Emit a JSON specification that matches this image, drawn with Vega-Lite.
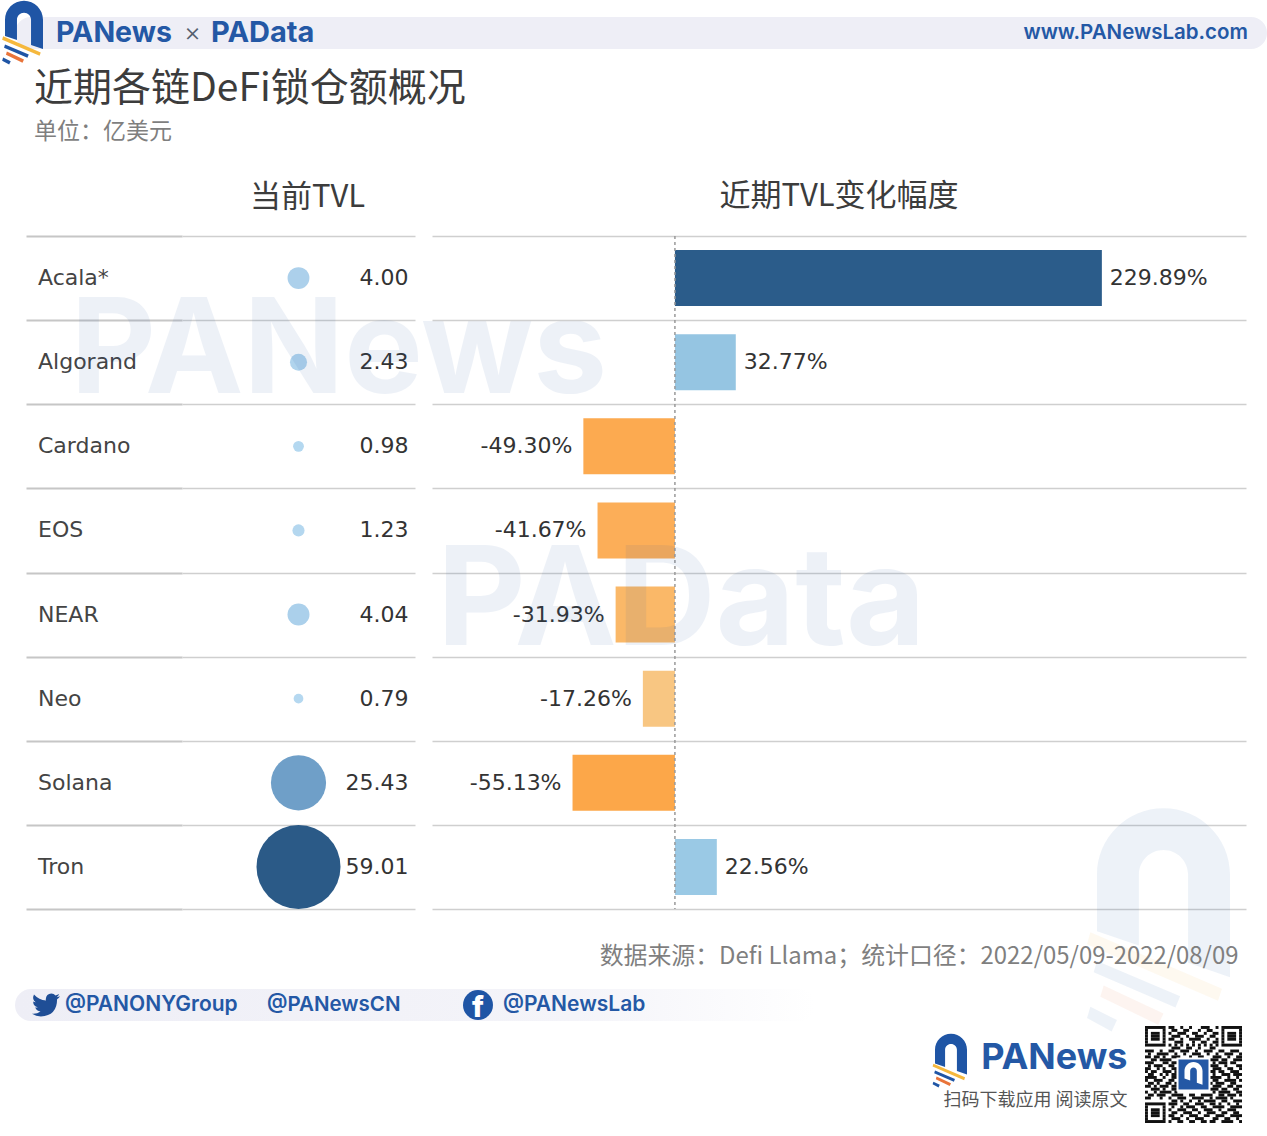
{
  "$schema": "https://vega.github.io/schema/vega-lite/v6.json",
  "padding": 0,
  "background": "#ffffff",
  "config": {
    "view": {"stroke": null},
    "text": {"font": "DejaVu Sans"},
    "title": {"font": "Noto Sans CJK SC"}
  },
  "datasets": {
    "chains": [
      {"chain": "Acala*", "tvl": 4.00, "change": 229.89, "changeLabel": "229.89%"},
      {"chain": "Algorand", "tvl": 2.43, "change": 32.77, "changeLabel": "32.77%"},
      {"chain": "Cardano", "tvl": 0.98, "change": -49.30, "changeLabel": "-49.30%"},
      {"chain": "EOS", "tvl": 1.23, "change": -41.67, "changeLabel": "-41.67%"},
      {"chain": "NEAR", "tvl": 4.04, "change": -31.93, "changeLabel": "-31.93%"},
      {"chain": "Neo", "tvl": 0.79, "change": -17.26, "changeLabel": "-17.26%"},
      {"chain": "Solana", "tvl": 25.43, "change": -55.13, "changeLabel": "-55.13%"},
      {"chain": "Tron", "tvl": 59.01, "change": 22.56, "changeLabel": "22.56%"}
    ],
    "logo": [
      {"part": "arch"}, {"part": "yellow"}, {"part": "navy"}, {"part": "orange"}, {"part": "tip"}
    ],
    "nothing": []
  },
  "spacing": 0,
  "bounds": "flush",
  "resolve": {"scale": {"color": "independent", "size": "independent", "shape": "independent"}},
  "vconcat": [
    {"width": 1, "height": 16, "data": {"name": "nothing"}, "mark": "point"},
    {
      "spacing": 0,
      "bounds": "flush",
      "hconcat": [
        {"width": 15, "height": 32, "data": {"name": "nothing"}, "mark": "point"},
        {
          "width": 1252,
          "height": 32,
          "view": {"fill": "#eeeef6", "cornerRadius": 16, "stroke": null},
          "layer": [
            {
              "data": {"name": "logo"},
              "mark": {"type": "point", "filled": true, "size": 1444, "opacity": 1, "strokeWidth": 0},
              "encoding": {
                "x": {"datum": "PANews", "type": "nominal", "axis": null, "scale": {"type": "point", "padding": 0, "domain": ["PANews", "www.PANewsLab.com"], "range": [9, 1233]}},
                "shape": {"field": "part", "type": "nominal", "legend": null, "scale": {"domain": ["arch", "yellow", "navy", "orange", "tip"], "range": ["M-1,.155 L-1,-.696 A1,1 0 0 1 1,-.696 L1,.844 L.37,.627 L.37,-.696 A.37,.37 0 0 0 -.37,-.696 L-.37,.37 Z", "M-1.1,.17 L.88,1.02 L.82,1.2 L-1.15,.35 Z", "M-1,.6 L.25,1.13 L.18,1.3 L-1.05,.77 Z", "M-.9,.97 L0,1.39 L-.08,1.56 L-.95,1.14 Z", "M-1.1,1.29 L-.7,1.49 L-.78,1.66 L-1.15,1.46 Z"]}},
                "color": {"field": "part", "type": "nominal", "legend": null, "scale": {"domain": ["arch", "yellow", "navy", "orange", "tip"], "range": ["#1f55a5", "#f5b83d", "#1f55a5", "#e9743a", "#1f55a5"]}}
              }
            },
            {
              "data": {"values": [{"label": "PANews"}]},
              "mark": {"type": "text", "align": "left", "dx": 32, "font": "Inter", "fontWeight": 700, "fontSize": 28.5, "color": "#2458a5"},
              "encoding": {"x": {"datum": "PANews", "type": "nominal", "axis": null}, "text": {"field": "label"}}
            },
            {
              "data": {"values": [{"label": "×"}]},
              "mark": {"type": "text", "align": "left", "dx": 160, "font": "Inter", "fontWeight": 300, "fontSize": 26, "color": "#55606f"},
              "encoding": {"x": {"datum": "PANews", "type": "nominal", "axis": null}, "text": {"field": "label"}}
            },
            {
              "data": {"values": [{"label": "PAData"}]},
              "mark": {"type": "text", "align": "left", "dx": 187, "font": "Inter", "fontWeight": 700, "fontSize": 29, "color": "#2458a5"},
              "encoding": {"x": {"datum": "PANews", "type": "nominal", "axis": null}, "text": {"field": "label"}}
            },
            {
              "data": {"values": [{"label": "www.PANewsLab.com"}]},
              "mark": {"type": "text", "align": "right", "font": "Inter", "fontWeight": 600, "fontSize": 20.5, "color": "#2458a5"},
              "encoding": {"x": {"datum": "www.PANewsLab.com", "type": "nominal", "axis": null}, "text": {"field": "label"}}
            }
          ]
        }
      ]
    },
    {"width": 1, "height": 32, "data": {"name": "nothing"}, "mark": "point"},
    {
      "width": 1267,
      "height": 187,
      "title": {
        "text": "近期各链DeFi锁仓额概况",
        "subtitle": "单位：亿美元",
        "anchor": "start",
        "frame": "group",
        "dx": 34,
        "offset": -95,
        "fontSize": 39,
        "fontWeight": 400,
        "color": "#3c3c3c",
        "subtitleFont": "Noto Sans CJK SC",
        "subtitleFontSize": 23,
        "subtitleColor": "#7f7f7f",
        "subtitlePadding": 12
      },
      "data": {"name": "nothing"},
      "mark": "point"
    },
    {
      "spacing": 0,
      "bounds": "flush",
      "resolve": {"scale": {"color": "independent", "size": "independent"}},
      "hconcat": [
        {"width": 26, "height": 673, "data": {"name": "nothing"}, "mark": "point"},
        {
          "width": 156,
          "height": 673,
          "data": {"name": "chains"},
          "mark": {"type": "text", "align": "left", "dx": -66, "fontSize": 22, "color": "#444444"},
          "encoding": {
            "y": {"field": "chain", "type": "nominal", "sort": null, "scale": {"paddingInner": 0, "paddingOuter": 0}, "axis": {"title": null, "labels": false, "ticks": false, "domain": false, "grid": true, "gridColor": "#c6c6c6", "gridWidth": 2, "tickBand": "extent"}},
            "text": {"field": "chain"}
          }
        },
        {
          "width": 233,
          "height": 673,
          "title": {"text": "当前TVL", "fontSize": 31, "fontWeight": 400, "color": "#3c3c3c", "dx": 9, "offset": 22},
          "data": {"name": "chains"},
          "encoding": {
            "y": {"field": "chain", "type": "nominal", "sort": null, "scale": {"paddingInner": 0, "paddingOuter": 0}, "axis": {"title": null, "labels": false, "ticks": false, "domain": false, "grid": true, "gridColor": "#cfcfcf", "gridWidth": 1.5, "tickBand": "extent"}}
          },
          "layer": [
            {
              "mark": {"type": "circle", "opacity": 1},
              "encoding": {
                "size": {"field": "tvl", "type": "quantitative", "legend": null, "scale": {"domain": [0, 59.01], "range": [0, 7056]}},
                "color": {"field": "tvl", "type": "quantitative", "legend": null, "scale": {"domain": [0.79, 25.43, 59.01], "range": ["#b5d8f0", "#6f9fc8", "#2b5a87"]}}
              }
            },
            {
              "mark": {"type": "text", "align": "right", "dx": 110, "fontSize": 22, "color": "#333333"},
              "encoding": {"text": {"field": "tvl", "type": "quantitative", "format": ".2f"}}
            },
            {
              "data": {"values": [{"label": "PANews"}]},
              "mark": {"type": "text", "align": "left", "dx": -228, "dy": -9, "font": "Inter", "fontWeight": 700, "fontSize": 132, "color": "#2458a5", "opacity": 0.08},
              "encoding": {"y": {"datum": "Algorand", "type": "nominal"}, "text": {"field": "label"}}
            }
          ]
        },
        {"width": 17, "height": 673, "data": {"name": "nothing"}, "mark": "point"},
        {
          "width": 814,
          "height": 673,
          "title": {"text": "近期TVL变化幅度", "fontSize": 31, "fontWeight": 400, "color": "#3c3c3c", "offset": 22},
          "data": {"name": "chains"},
          "encoding": {
            "y": {"field": "chain", "type": "nominal", "sort": null, "scale": {"paddingInner": 0, "paddingOuter": 0}, "axis": {"title": null, "labels": false, "ticks": false, "domain": false, "grid": true, "gridColor": "#cfcfcf", "gridWidth": 1.5, "tickBand": "extent"}},
            "x": {"field": "change", "type": "quantitative", "axis": null, "scale": {"domain": [-130.8, 307.5], "nice": false}}
          },
          "layer": [
            {
              "mark": {"type": "bar", "size": 56},
              "encoding": {
                "color": {"field": "change", "type": "quantitative", "legend": null, "scale": {"domain": [-55.13, -41.67, -17.26, 0, 22.56, 32.77, 229.89], "range": ["#fca749", "#fcae58", "#f8c682", "#f5e6c8", "#9ac9e5", "#95c5e2", "#2b5c8a"]}}
              }
            },
            {
              "transform": [{"filter": "datum.change > 0"}],
              "mark": {"type": "text", "align": "left", "dx": 8, "fontSize": 22, "color": "#333333"},
              "encoding": {"text": {"field": "changeLabel"}}
            },
            {
              "transform": [{"filter": "datum.change < 0"}],
              "mark": {"type": "text", "align": "right", "dx": -11, "fontSize": 22, "color": "#333333"},
              "encoding": {"text": {"field": "changeLabel"}}
            },
            {
              "data": {"values": [{"zero": 0}]},
              "mark": {"type": "rule", "color": "#9a9a9a", "strokeDash": [3, 3], "strokeWidth": 1.5},
              "encoding": {"x": {"field": "zero", "type": "quantitative"}, "y": null}
            },
            {
              "data": {"values": [{"label": "PAData"}]},
              "mark": {"type": "text", "align": "left", "dx": -402, "dy": -11, "font": "Inter", "fontWeight": 700, "fontSize": 137, "color": "#2458a5", "opacity": 0.08},
              "encoding": {"x": null, "y": {"datum": "NEAR", "type": "nominal"}, "text": {"field": "label"}}
            }
          ]
        }
      ]
    },
    {"width": 1, "height": 674, "data": {"name": "nothing"}, "mark": "point"},
    {
      "spacing": 0,
      "bounds": "flush",
      "hconcat": [
        {"width": 1060, "height": 22, "data": {"name": "nothing"}, "mark": "point"},
        {
          "width": 207,
          "height": 22,
          "data": {"name": "logo"},
          "mark": {"type": "point", "filled": true, "size": 17689, "opacity": 0.08, "strokeWidth": 0},
          "encoding": {
            "shape": {"field": "part", "type": "nominal", "legend": null, "scale": {"domain": ["arch", "yellow", "navy", "orange", "tip"], "range": ["M-1,.155 L-1,-.696 A1,1 0 0 1 1,-.696 L1,.844 L.37,.627 L.37,-.696 A.37,.37 0 0 0 -.37,-.696 L-.37,.37 Z", "M-1.1,.17 L.88,1.02 L.82,1.2 L-1.15,.35 Z", "M-1,.6 L.25,1.13 L.18,1.3 L-1.05,.77 Z", "M-.9,.97 L0,1.39 L-.08,1.56 L-.95,1.14 Z", "M-1.1,1.29 L-.7,1.49 L-.78,1.66 L-1.15,1.46 Z"]}},
            "color": {"field": "part", "type": "nominal", "legend": null, "scale": {"domain": ["arch", "yellow", "navy", "orange", "tip"], "range": ["#1f55a5", "#f5b83d", "#1f55a5", "#e9743a", "#1f55a5"]}}
          }
        }
      ]
    },
    {"width": 1, "height": 22, "data": {"name": "nothing"}, "mark": "point"},
    {
      "width": 1267,
      "height": 57,
      "data": {"values": [{"note": "数据来源：Defi Llama；统计口径：2022/05/09-2022/08/09"}]},
      "mark": {"type": "text", "align": "right", "dx": 605, "dy": -4, "font": "Noto Sans CJK SC", "fontSize": 23.9, "color": "#7f7f7f"},
      "encoding": {"text": {"field": "note"}}
    },
    {
      "spacing": 0,
      "bounds": "flush",
      "hconcat": [
        {"width": 15, "height": 32, "data": {"name": "nothing"}, "mark": "point"},
        {
          "width": 800,
          "height": 32,
          "view": {"cornerRadius": 16, "stroke": null, "fill": {"gradient": "linear", "x1": 0, "x2": 1, "y1": 0, "y2": 0, "stops": [{"offset": 0, "color": "#eeeef6"}, {"offset": 0.7, "color": "#f4f4f9"}, {"offset": 1, "color": "#ffffff"}]}},
          "resolve": {"scale": {"x": "independent"}},
          "layer": [
            {
              "data": {"values": [{"handle": "@PANONYGroup"}, {"handle": "@PANewsLab"}]},
              "mark": {"type": "text", "align": "left", "font": "Inter", "fontWeight": 600, "fontSize": 21, "color": "#2458a5"},
              "encoding": {
                "x": {"field": "handle", "type": "nominal", "axis": null, "scale": {"type": "point", "padding": 0, "domain": ["@PANONYGroup", "@PANewsLab"], "range": [50, 488]}},
                "text": {"field": "handle"}
              }
            },
            {
              "data": {"values": [{"handle": "@PANewsCN"}]},
              "mark": {"type": "text", "align": "left", "dx": -42, "font": "Inter", "fontWeight": 600, "fontSize": 20.5, "color": "#2458a5"},
              "encoding": {
                "x": {"field": "handle", "type": "nominal", "axis": null, "scale": {"type": "point", "padding": 0, "domain": ["a", "@PANewsCN", "b"], "range": [50, 538]}},
                "text": {"field": "handle"}
              }
            },
            {
              "data": {"values": [{"icon": "twitter"}]},
              "mark": {"type": "point", "filled": true, "size": 784, "opacity": 1, "strokeWidth": 0, "color": "#1f4e96", "shape": "M1,-.617 Q.892,-.567 .758,-.558 Q.892,-.633 .942,-.783 Q.825,-.717 .683,-.683 Q.558,-.817 .383,-.817 Q.017,-.792 -.017,-.408 Q-.017,-.358 0,-.317 Q-.5,-.342 -.858,-.742 Q-1.025,-.4 -.733,-.192 Q-.833,-.192 -.917,-.242 Q-.917,.083 -.592,.167 Q-.692,.192 -.775,.167 Q-.675,.433 -.392,.458 Q-.667,.667 -1,.625 Q-.708,.813 -.367,.813 Q.792,.767 .792,-.408 Q.917,-.483 1,-.617 Z"},
              "encoding": {
                "x": {"field": "icon", "type": "nominal", "axis": null, "scale": {"type": "point", "padding": 0, "domain": ["twitter", "facebook"], "range": [31, 463]}}
              }
            },
            {
              "data": {"values": [{"icon": "facebook"}]},
              "mark": {"type": "circle", "size": 900, "opacity": 1, "color": "#1f55a5"},
              "encoding": {
                "x": {"field": "icon", "type": "nominal", "axis": null, "scale": {"type": "point", "padding": 0, "domain": ["twitter", "facebook"], "range": [31, 463]}}
              }
            },
            {
              "data": {"values": [{"icon": "facebook", "glyph": "f"}]},
              "mark": {"type": "text", "dy": 3, "font": "Inter", "fontWeight": 800, "fontSize": 29, "color": "#ffffff"},
              "encoding": {
                "x": {"field": "icon", "type": "nominal", "axis": null, "scale": {"type": "point", "padding": 0, "domain": ["twitter", "facebook"], "range": [31, 463]}},
                "text": {"field": "glyph"}
              }
            }
          ]
        }
      ]
    },
    {"width": 1, "height": 32, "data": {"name": "nothing"}, "mark": "point"},
    {"width": 1, "height": 5, "data": {"name": "nothing"}, "mark": "point"},
    {
      "spacing": 0,
      "bounds": "flush",
      "hconcat": [
        {"width": 928, "height": 70, "data": {"name": "nothing"}, "mark": "point"},
        {
          "width": 46,
          "height": 70,
          "data": {"name": "logo"},
          "mark": {"type": "point", "filled": true, "size": 1024, "opacity": 1, "strokeWidth": 0},
          "encoding": {
            "shape": {"field": "part", "type": "nominal", "legend": null, "scale": {"domain": ["arch", "yellow", "navy", "orange", "tip"], "range": ["M-1,.155 L-1,-.696 A1,1 0 0 1 1,-.696 L1,.844 L.37,.627 L.37,-.696 A.37,.37 0 0 0 -.37,-.696 L-.37,.37 Z", "M-1.1,.17 L.88,1.02 L.82,1.2 L-1.15,.35 Z", "M-1,.6 L.25,1.13 L.18,1.3 L-1.05,.77 Z", "M-.9,.97 L0,1.39 L-.08,1.56 L-.95,1.14 Z", "M-1.1,1.29 L-.7,1.49 L-.78,1.66 L-1.15,1.46 Z"]}},
            "color": {"field": "part", "type": "nominal", "legend": null, "scale": {"domain": ["arch", "yellow", "navy", "orange", "tip"], "range": ["#1f55a5", "#f5b83d", "#1f55a5", "#e9743a", "#1f55a5"]}}
          }
        },
        {
          "width": 171,
          "height": 70,
          "layer": [
            {
              "data": {"values": [{"label": "PANews"}]},
              "mark": {"type": "text", "align": "right", "dx": 68, "font": "Inter", "fontWeight": 700, "fontSize": 36, "color": "#2458a5"},
              "encoding": {
                "y": {"field": "label", "type": "nominal", "axis": null, "scale": {"type": "point", "padding": 0, "domain": ["PANews", "扫码下载应用 阅读原文"], "range": [32, 75]}},
                "text": {"field": "label"}
              }
            },
            {
              "data": {"values": [{"label": "扫码下载应用 阅读原文"}]},
              "mark": {"type": "text", "align": "right", "dx": 68, "font": "Noto Sans CJK SC", "fontSize": 18, "color": "#555555"},
              "encoding": {
                "y": {"field": "label", "type": "nominal", "axis": null},
                "text": {"field": "label"}
              }
            }
          ]
        },
        {
          "width": 97,
          "height": 97,
          "layer": [
            {
              "data": {"values": [
                {"r":0,"a":0,"b":7},{"r":0,"a":8,"b":10},{"r":0,"a":12,"b":13},{"r":0,"a":15,"b":16},{"r":0,"a":19,"b":22},{"r":0,"a":24,"b":25},{"r":0,"a":26,"b":33},
                {"r":1,"a":0,"b":1},{"r":1,"a":6,"b":7},{"r":1,"a":9,"b":11},{"r":1,"a":13,"b":15},{"r":1,"a":18,"b":19},{"r":1,"a":21,"b":23},{"r":1,"a":26,"b":27},{"r":1,"a":32,"b":33},
                {"r":2,"a":0,"b":1},{"r":2,"a":2,"b":5},{"r":2,"a":6,"b":7},{"r":2,"a":8,"b":9},{"r":2,"a":11,"b":14},{"r":2,"a":16,"b":18},{"r":2,"a":20,"b":21},{"r":2,"a":23,"b":25},{"r":2,"a":26,"b":27},{"r":2,"a":28,"b":31},{"r":2,"a":32,"b":33},
                {"r":3,"a":0,"b":1},{"r":3,"a":2,"b":5},{"r":3,"a":6,"b":7},{"r":3,"a":9,"b":12},{"r":3,"a":14,"b":15},{"r":3,"a":17,"b":20},{"r":3,"a":22,"b":24},{"r":3,"a":26,"b":27},{"r":3,"a":28,"b":31},{"r":3,"a":32,"b":33},
                {"r":4,"a":0,"b":1},{"r":4,"a":2,"b":5},{"r":4,"a":6,"b":7},{"r":4,"a":8,"b":10},{"r":4,"a":12,"b":13},{"r":4,"a":15,"b":19},{"r":4,"a":21,"b":22},{"r":4,"a":24,"b":25},{"r":4,"a":26,"b":27},{"r":4,"a":28,"b":31},{"r":4,"a":32,"b":33},
                {"r":5,"a":0,"b":1},{"r":5,"a":6,"b":7},{"r":5,"a":10,"b":13},{"r":5,"a":16,"b":17},{"r":5,"a":19,"b":21},{"r":5,"a":23,"b":25},{"r":5,"a":26,"b":27},{"r":5,"a":32,"b":33},
                {"r":6,"a":0,"b":7},{"r":6,"a":8,"b":9},{"r":6,"a":10,"b":11},{"r":6,"a":12,"b":13},{"r":6,"a":14,"b":15},{"r":6,"a":16,"b":17},{"r":6,"a":18,"b":19},{"r":6,"a":20,"b":21},{"r":6,"a":22,"b":23},{"r":6,"a":24,"b":25},{"r":6,"a":26,"b":33},
                {"r":7,"a":9,"b":12},{"r":7,"a":14,"b":16},{"r":7,"a":18,"b":19},{"r":7,"a":22,"b":24},
                {"r":8,"a":0,"b":3},{"r":8,"a":5,"b":6},{"r":8,"a":8,"b":10},{"r":8,"a":12,"b":15},{"r":8,"a":17,"b":18},{"r":8,"a":20,"b":23},{"r":8,"a":25,"b":27},{"r":8,"a":29,"b":32},
                {"r":9,"a":1,"b":2},{"r":9,"a":4,"b":8},{"r":9,"a":10,"b":11},{"r":9,"a":13,"b":14},{"r":9,"a":16,"b":19},{"r":9,"a":21,"b":22},{"r":9,"a":24,"b":25},{"r":9,"a":27,"b":30},{"r":9,"a":32,"b":33},
                {"r":10,"a":0,"b":2},{"r":10,"a":3,"b":5},{"r":10,"a":6,"b":7},{"r":10,"a":9,"b":12},{"r":10,"a":15,"b":16},{"r":10,"a":18,"b":20},{"r":10,"a":23,"b":26},{"r":10,"a":28,"b":29},{"r":10,"a":31,"b":33},
                {"r":11,"a":2,"b":4},{"r":11,"a":5,"b":9},{"r":11,"a":22,"b":25},{"r":11,"a":26,"b":28},{"r":11,"a":30,"b":33},
                {"r":12,"a":0,"b":3},{"r":12,"a":6,"b":8},{"r":12,"a":9,"b":11},{"r":12,"a":23,"b":24},{"r":12,"a":25,"b":28},{"r":12,"a":29,"b":31},
                {"r":13,"a":1,"b":2},{"r":13,"a":3,"b":6},{"r":13,"a":8,"b":10},{"r":13,"a":22,"b":25},{"r":13,"a":27,"b":28},{"r":13,"a":31,"b":33},
                {"r":14,"a":0,"b":2},{"r":14,"a":4,"b":5},{"r":14,"a":6,"b":7},{"r":14,"a":9,"b":11},{"r":14,"a":23,"b":26},{"r":14,"a":28,"b":30},{"r":14,"a":32,"b":33},
                {"r":15,"a":0,"b":1},{"r":15,"a":2,"b":4},{"r":15,"a":6,"b":9},{"r":15,"a":10,"b":11},{"r":15,"a":22,"b":24},{"r":15,"a":25,"b":27},{"r":15,"a":29,"b":32},
                {"r":16,"a":1,"b":3},{"r":16,"a":5,"b":6},{"r":16,"a":7,"b":8},{"r":16,"a":9,"b":11},{"r":16,"a":23,"b":24},{"r":16,"a":26,"b":29},{"r":16,"a":30,"b":33},
                {"r":17,"a":0,"b":4},{"r":17,"a":6,"b":7},{"r":17,"a":9,"b":11},{"r":17,"a":22,"b":26},{"r":17,"a":28,"b":29},{"r":17,"a":31,"b":32},
                {"r":18,"a":0,"b":1},{"r":18,"a":3,"b":6},{"r":18,"a":8,"b":10},{"r":18,"a":23,"b":25},{"r":18,"a":27,"b":31},{"r":18,"a":32,"b":33},
                {"r":19,"a":1,"b":3},{"r":19,"a":4,"b":5},{"r":19,"a":7,"b":9},{"r":19,"a":10,"b":11},{"r":19,"a":22,"b":23},{"r":19,"a":24,"b":27},{"r":19,"a":29,"b":31},
                {"r":20,"a":0,"b":2},{"r":20,"a":3,"b":4},{"r":20,"a":5,"b":8},{"r":20,"a":9,"b":11},{"r":20,"a":23,"b":26},{"r":20,"a":28,"b":30},{"r":20,"a":31,"b":33},
                {"r":21,"a":2,"b":5},{"r":21,"a":6,"b":7},{"r":21,"a":9,"b":11},{"r":21,"a":22,"b":25},{"r":21,"a":26,"b":28},{"r":21,"a":30,"b":32},
                {"r":22,"a":0,"b":1},{"r":22,"a":3,"b":4},{"r":22,"a":5,"b":9},{"r":22,"a":10,"b":11},{"r":22,"a":23,"b":24},{"r":22,"a":25,"b":29},{"r":22,"a":31,"b":33},
                {"r":23,"a":1,"b":3},{"r":23,"a":4,"b":7},{"r":23,"a":9,"b":13},{"r":23,"a":15,"b":17},{"r":23,"a":19,"b":23},{"r":23,"a":25,"b":27},{"r":23,"a":28,"b":31},{"r":23,"a":32,"b":33},
                {"r":24,"a":0,"b":2},{"r":24,"a":5,"b":6},{"r":24,"a":8,"b":9},{"r":24,"a":11,"b":14},{"r":24,"a":16,"b":20},{"r":24,"a":22,"b":23},{"r":24,"a":24,"b":28},{"r":24,"a":29,"b":30},
                {"r":25,"a":9,"b":11},{"r":25,"a":12,"b":13},{"r":25,"a":15,"b":16},{"r":25,"a":18,"b":19},{"r":25,"a":20,"b":24},{"r":25,"a":26,"b":28},{"r":25,"a":30,"b":33},
                {"r":26,"a":0,"b":7},{"r":26,"a":8,"b":11},{"r":26,"a":13,"b":15},{"r":26,"a":17,"b":20},{"r":26,"a":22,"b":24},{"r":26,"a":25,"b":26},{"r":26,"a":28,"b":29},{"r":26,"a":31,"b":32},
                {"r":27,"a":0,"b":1},{"r":27,"a":6,"b":7},{"r":27,"a":9,"b":10},{"r":27,"a":12,"b":13},{"r":27,"a":14,"b":17},{"r":27,"a":19,"b":21},{"r":27,"a":23,"b":27},{"r":27,"a":29,"b":33},
                {"r":28,"a":0,"b":1},{"r":28,"a":2,"b":5},{"r":28,"a":6,"b":7},{"r":28,"a":8,"b":9},{"r":28,"a":11,"b":14},{"r":28,"a":16,"b":18},{"r":28,"a":20,"b":23},{"r":28,"a":25,"b":26},{"r":28,"a":28,"b":31},
                {"r":29,"a":0,"b":1},{"r":29,"a":2,"b":5},{"r":29,"a":6,"b":7},{"r":29,"a":9,"b":11},{"r":29,"a":13,"b":16},{"r":29,"a":18,"b":19},{"r":29,"a":21,"b":24},{"r":29,"a":26,"b":28},{"r":29,"a":30,"b":32},
                {"r":30,"a":0,"b":1},{"r":30,"a":2,"b":5},{"r":30,"a":6,"b":7},{"r":30,"a":8,"b":10},{"r":30,"a":12,"b":13},{"r":30,"a":15,"b":18},{"r":30,"a":20,"b":22},{"r":30,"a":24,"b":27},{"r":30,"a":29,"b":33},
                {"r":31,"a":0,"b":1},{"r":31,"a":6,"b":7},{"r":31,"a":9,"b":12},{"r":31,"a":14,"b":15},{"r":31,"a":17,"b":20},{"r":31,"a":23,"b":25},{"r":31,"a":27,"b":29},{"r":31,"a":31,"b":32},
                {"r":32,"a":0,"b":7},{"r":32,"a":8,"b":9},{"r":32,"a":11,"b":13},{"r":32,"a":15,"b":17},{"r":32,"a":19,"b":21},{"r":32,"a":22,"b":24},{"r":32,"a":26,"b":30},{"r":32,"a":32,"b":33}
              ]},
              "mark": {"type": "bar", "color": "#111111"},
              "encoding": {
                "y": {"field": "r", "type": "ordinal", "axis": null, "sort": null, "scale": {"domain": [0, 1, 2, 3, 4, 5, 6, 7, 8, 9, 10, 11, 12, 13, 14, 15, 16, 17, 18, 19, 20, 21, 22, 23, 24, 25, 26, 27, 28, 29, 30, 31, 32], "paddingInner": 0, "paddingOuter": 0}},
                "x": {"field": "a", "type": "quantitative", "axis": null, "scale": {"domain": [0, 33], "nice": false}},
                "x2": {"field": "b"}
              }
            },
            {
              "data": {"values": [{"part": "badge"}]},
              "mark": {"type": "point", "filled": true, "shape": "square", "size": 1024, "opacity": 1, "color": "#2458a5", "stroke": "#ffffff", "strokeWidth": 2}
            },
            {
              "data": {"values": [{"part": "arch"}]},
              "mark": {"type": "point", "filled": true, "size": 324, "opacity": 1, "color": "#ffffff", "strokeWidth": 0, "shape": "M-1,.455 L-1,-.396 A1,1 0 0 1 1,-.396 L1,1.144 L.37,.927 L.37,-.396 A.37,.37 0 0 0 -.37,-.396 L-.37,.67 Z"}
            }
          ]
        }
      ]
    },
    {"width": 1, "height": 97, "data": {"name": "nothing"}, "mark": "point"}
  ]
}
